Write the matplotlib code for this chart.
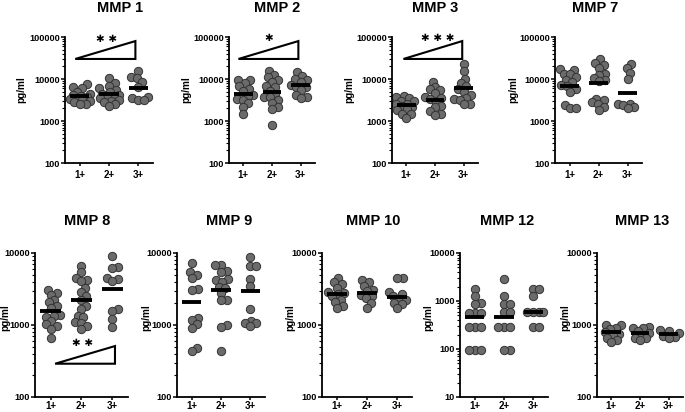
"""
MMP concentrations by grade (1+, 2+, 3+), dot plots with mean bars
"""

import numpy as np
import matplotlib.pyplot as plt
from matplotlib.patches import Polygon
from matplotlib.ticker import FixedLocator, FixedFormatter, LogLocator, NullFormatter

plt.rcParams["font.family"] = ["Liberation Sans", "DejaVu Sans"]
plt.rcParams["font.weight"] = "bold"

groups = ["1+", "2+", "3+"]

# values (pg/ml)
mmp1 = [
    [7500, 6500, 6000, 5000, 4500, 4200, 4000, 3800, 3600, 3400, 3200, 3000, 2800, 2600, 2500],
    [10300, 8000, 7000, 6000, 5500, 5000, 4500, 4200, 4000, 3800, 3500, 3200, 3000, 2800, 2500, 2300],
    [15800, 11000, 10700, 8600, 6500, 3800, 3500, 3100, 3100],
]
mmp1_mean = [4000, 4500, 6200]

mmp2 = [
    [9500, 9400, 7900, 6800, 5700, 5300, 4150, 3900, 3300, 3200, 2650, 2100, 1500],
    [15500, 12500, 11000, 9500, 8700, 6800, 6300, 5300, 4500, 3800, 3700, 3200, 2700, 2100, 1900, 800],
    [14400, 11800, 10000, 9500, 8600, 7200, 6600, 6300, 5500, 4200, 3700, 3500],
]
mmp2_mean = [4500, 5000, 7200]

mmp3 = [
    [3900, 3800, 3500, 3050, 3000, 2600, 2500, 2250, 2200, 1900, 1800, 1500, 1450, 1160],
    [8600, 6300, 5700, 5500, 4700, 3800, 3500, 3300, 2900, 2300, 2100, 1700, 1500, 1400],
    [22700, 15200, 10200, 7900, 6800, 5700, 5000, 4200, 3500, 3300, 3200, 2600, 2500],
]
mmp3_mean = [2400, 3100, 6000]

mmp7 = [
    [17000, 16500, 13000, 13000, 11000, 9500, 8600, 7200, 6800, 5700, 5000, 2400, 2000, 2000],
    [29400, 23600, 21500, 18000, 13500, 12500, 10800, 9400, 9000, 3400, 3100, 2800, 2600, 2200, 1800],
    [23200, 18000, 13600, 10000, 2600, 2500, 2400, 2200, 2000],
]
mmp7_mean = [6800, 7900, 4700]

mmp8 = [
    [3100, 2800, 2600, 2250, 2100, 1850, 1750, 1380, 1350, 1300, 1150, 1020, 960, 890, 650],
    [6700, 5400, 4500, 4200, 4100, 3300, 2850, 2550, 2250, 1850, 1650, 1350, 1300, 1100, 1080, 980, 890],
    [9200, 6400, 6200, 4500, 4400, 4100, 1650, 1550, 1200, 930],
]
mmp8_mean = [1550, 2200, 3200]

mmp9 = [
    [7300, 5400, 5000, 4500, 3200, 3100, 1260, 1190, 1020, 920, 480, 430],
    [6900, 6900, 5700, 5400, 4300, 4200, 4000, 3400, 3300, 2800, 2250, 2200, 1000, 950, 430],
    [8800, 6500, 6500, 4400, 3500, 1650, 1130, 1050, 1050, 960],
]
mmp9_mean = [2100, 3100, 2930]

mmp10 = [
    [4500, 3900, 3700, 3300, 2900, 2750, 2700, 2500, 2250, 2100, 1850, 1750],
    [4200, 3900, 3500, 3100, 2950, 2650, 2500, 2350, 2050, 1750],
    [4500, 4500, 2900, 2700, 2500, 2300, 2250, 2050, 1950, 1750],
]
mmp10_mean = [2700, 2800, 2430]

mmp12 = [
    [1750, 1300, 900, 880, 550, 550, 550, 290, 290, 290, 95, 95, 95],
    [2900, 1300, 880, 880, 600, 600, 290, 290, 290, 95, 95],
    [1750, 1750, 1300, 590, 590, 590, 590, 290, 290],
]
mmp12_mean = [474, 474, 590]

mmp13 = [
    [1000, 1000, 920, 870, 800, 750, 730, 670, 620, 580],
    [950, 920, 920, 820, 770, 710, 670, 650, 610],
    [850, 820, 770, 710, 690, 670],
]
mmp13_mean = [800, 780, 750]

W, H = 685, 412
fig = plt.figure(figsize=(W / 100, H / 100), dpi=100)


def add_axes_px(left, right, top, bottom):
    return fig.add_axes([left / W, (H - bottom) / H, (right - left) / W, (bottom - top) / H])


def swarm(vals, xc, unit_px, dec_px, diam=6.0, max_off=10.0):
    """Deterministic, width-limited beeswarm in pixel space."""
    ys = np.log10(vals) * dec_px
    xs = np.zeros(len(vals))
    placed = []
    cands = [0.0]
    step = 0.5
    k = 1
    while k * step <= max_off:
        cands += [k * step, -k * step]
        k += 1
    for i in np.argsort(ys):
        best, best_d = 0.0, -1.0
        for off in cands:
            d = min([np.hypot(off - px, ys[i] - py) for px, py in placed] or [99.0])
            if d >= diam:
                best = off
                break
            if d > best_d:
                best, best_d = off, d
        placed.append((best, ys[i]))
        xs[i] = xc + best / unit_px
    return xs


# (title, data, means, axes box in px (l, r, t, b), ylim, title x/y px, ylabel x px)
panels = [
    ("MMP 1", mmp1, mmp1_mean, (65, 153, 37, 163), (100, 100000), 120, 8, 21),
    ("MMP 2", mmp2, mmp2_mean, (229, 315, 37, 163), (100, 100000), 277, 8, 186),
    ("MMP 3", mmp3, mmp3_mean, (392, 478, 37, 163), (100, 100000), 435, 8, 349),
    ("MMP 7", mmp7, mmp7_mean, (555, 642, 37, 163), (100, 100000), 595, 8, 513),
    ("MMP 8", mmp8, mmp8_mean, (35, 128, 253, 397), (100, 10000), 87, 221, 5),
    ("MMP 9", mmp9, mmp9_mean, (177, 265, 253, 397), (100, 10000), 229, 221, 146),
    ("MMP 10", mmp10, mmp10_mean, (322, 412, 253, 397), (100, 10000), 373, 221, 290),
    ("MMP 12", mmp12, mmp12_mean, (460, 548, 253, 397), (10, 10000), 507, 221, 428),
    ("MMP 13", mmp13, mmp13_mean, (597, 683, 253, 397), (100, 10000), 642, 221, 565),
]

# significance triangles: (x_left, x_right, y_base, y_top, stars, star_x, star_y)
trend = {
    "MMP 1": (0.85, 2.9, 30000, 80000, "✱ ✱", 1.93, 92000),
    "MMP 2": (0.83, 2.92, 30000, 80000, "✱", 1.9, 95000),
    "MMP 3": (0.9, 2.95, 30000, 80000, "✱ ✱ ✱", 2.08, 97000),
    "MMP 8": (1.15, 3.08, 290, 510, "✱ ✱", 2.05, 560),
}

for title, data, means, (l, r, t, b), ylim, tx, ty, lx in panels:
    ax = add_axes_px(l, r, t, b)
    unit_px = (r - l) / 3.0
    dec_px = (b - t) / np.log10(ylim[1] / ylim[0])
    for i, vals in enumerate(data):
        xs = swarm(vals, i + 1, unit_px, dec_px)
        ax.scatter(xs, vals, s=36, color="#6b6b6b", edgecolor="#333333",
                   linewidth=0.7, zorder=2, clip_on=False)
        ax.hlines(means[i], i + 1 - 0.33, i + 1 + 0.33, color="black", lw=2.8, zorder=3)

    ax.set_yscale("log")
    ax.set_ylim(*ylim)
    ax.set_xlim(0.5, 3.5)
    majors = [10 ** k for k in range(int(np.log10(ylim[0])), int(np.log10(ylim[1])) + 1)]
    ax.yaxis.set_major_locator(FixedLocator(majors))
    ax.yaxis.set_major_formatter(FixedFormatter([str(m) for m in majors]))
    ax.yaxis.set_minor_locator(LogLocator(base=10, subs=np.arange(2, 10)))
    ax.yaxis.set_minor_formatter(NullFormatter())
    ax.set_xticks([1, 2, 3])
    ax.set_xticklabels(groups)
    bottom_row = t > 200
    ax.tick_params(axis="y", which="major", length=3, width=1.1, labelsize=6.6, pad=0.5)
    ax.tick_params(axis="y", which="minor", length=2, width=0.8)
    ax.tick_params(axis="x", length=2, width=1.1, labelsize=7,
                   pad=1 if bottom_row else 3)
    for lab in ax.get_xticklabels() + ax.get_yticklabels():
        lab.set_fontweight("bold")
    for side in ("top", "right"):
        ax.spines[side].set_visible(False)
    for side in ("left", "bottom"):
        ax.spines[side].set_linewidth(1.3)
    ax.set_ylabel("pg/ml", fontsize=7.2, fontweight="bold", va="center")
    ax.yaxis.set_label_coords((lx - l) / (r - l), 0.55 if bottom_row else 0.58)
    ax.patch.set_alpha(0)

    fig.text(tx / W, 1 - ty / H, title, fontsize=10.5, fontweight="bold",
             ha="center", va="center")

    if title in trend:
        x0, x1, y0, y1, stars, sx, sy = trend[title]
        tri = Polygon([[x0, y0], [x1, y1], [x1, y0]], closed=True,
                      facecolor="white", edgecolor="black", lw=1.5, zorder=4, clip_on=False)
        ax.add_patch(tri)
        ax.text(sx, sy, stars, fontsize=7.5, fontweight="bold", family="DejaVu Sans",
                ha="center", va="center", zorder=5, clip_on=False)

fig.savefig("out.png", dpi=100)
